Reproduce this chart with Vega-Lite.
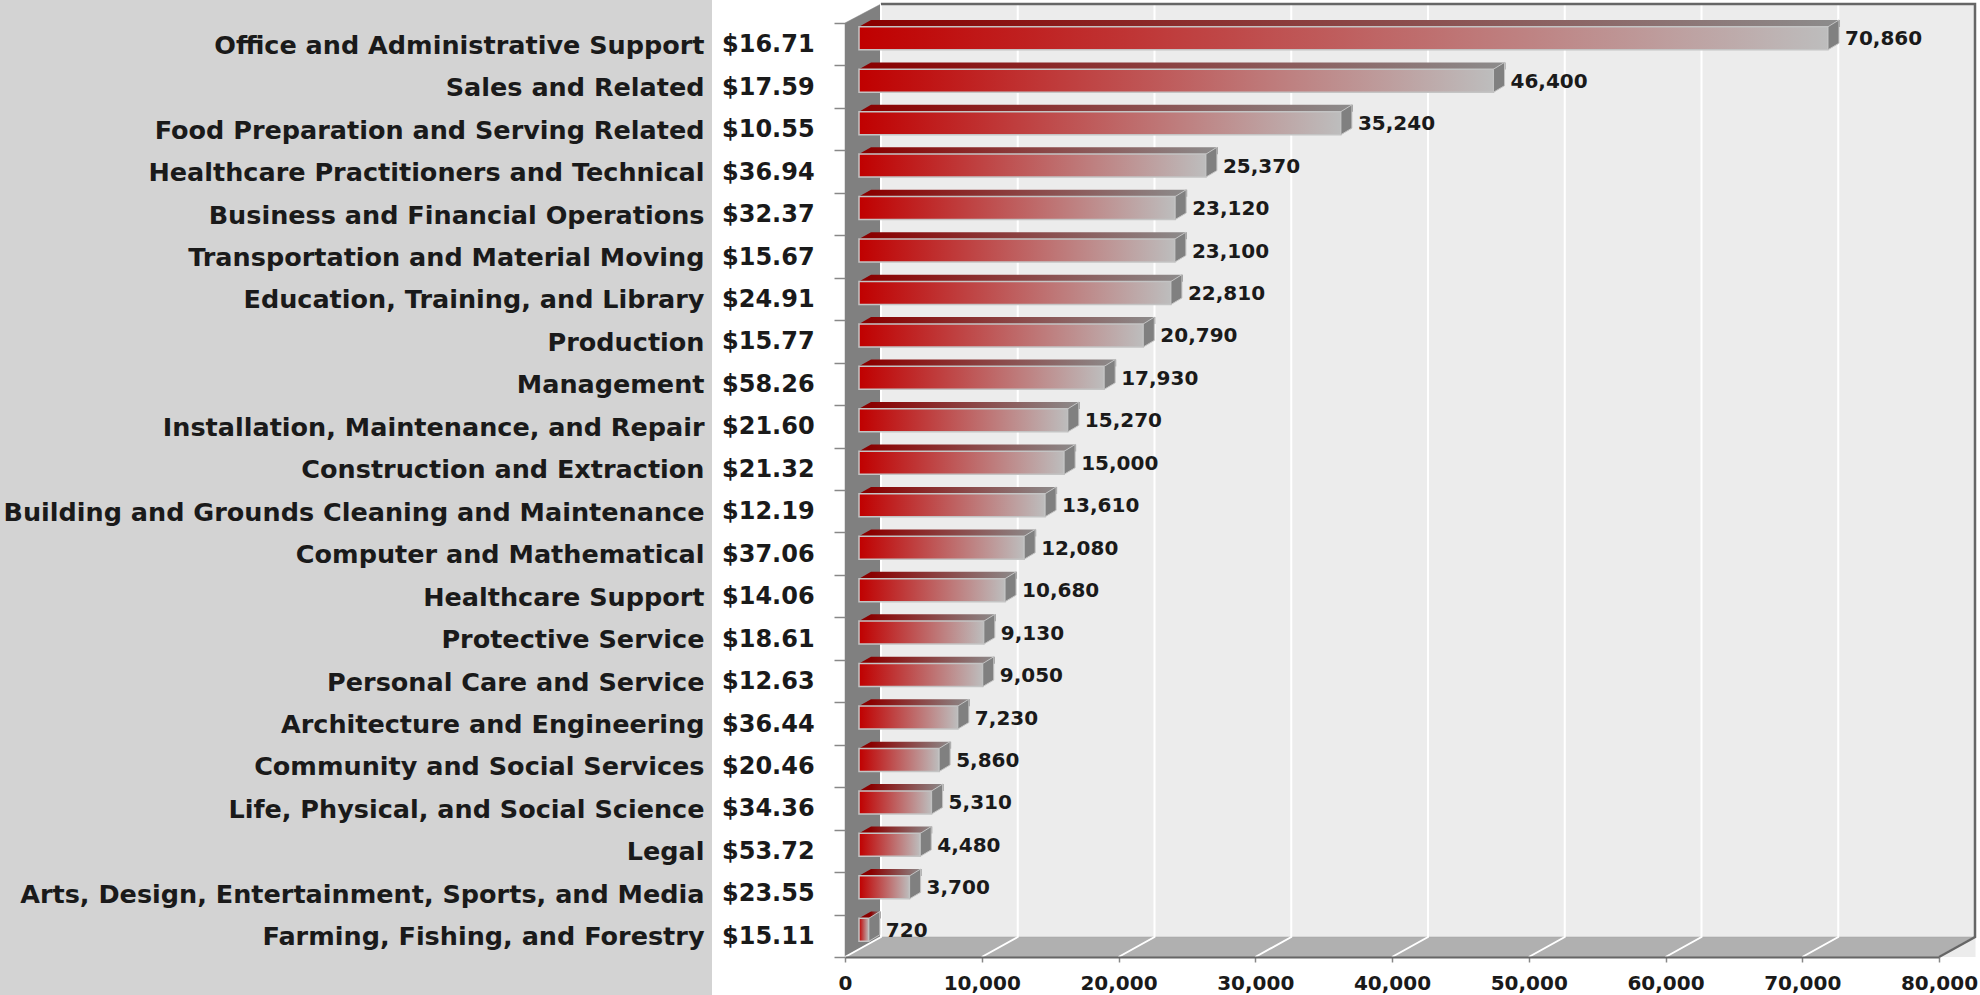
{"$schema":"https://vega.github.io/schema/vega-lite/v6.json","width":1094,"height":934,"autosize":{"type":"none"},"padding":{"left":845,"top":23,"right":41,"bottom":38},"background":"#ffffff","config":{"view":{"stroke":null},"font":"DejaVu Sans","scale":{"bandPaddingInner":0,"bandPaddingOuter":0}},"datasets":{"one":[{"k":1}],"ticks":[{"tick":0},{"tick":10000},{"tick":20000},{"tick":30000},{"tick":40000},{"tick":50000},{"tick":60000},{"tick":70000},{"tick":80000}],"rows":[{"occupation":"Office and Administrative Support","wage":16.71,"employment":70860},{"occupation":"Sales and Related","wage":17.59,"employment":46400},{"occupation":"Food Preparation and Serving Related","wage":10.55,"employment":35240},{"occupation":"Healthcare Practitioners and Technical","wage":36.94,"employment":25370},{"occupation":"Business and Financial Operations","wage":32.37,"employment":23120},{"occupation":"Transportation and Material Moving","wage":15.67,"employment":23100},{"occupation":"Education, Training, and Library","wage":24.91,"employment":22810},{"occupation":"Production","wage":15.77,"employment":20790},{"occupation":"Management","wage":58.26,"employment":17930},{"occupation":"Installation, Maintenance, and Repair","wage":21.6,"employment":15270},{"occupation":"Construction and Extraction","wage":21.32,"employment":15000},{"occupation":"Building and Grounds Cleaning and Maintenance","wage":12.19,"employment":13610},{"occupation":"Computer and Mathematical","wage":37.06,"employment":12080},{"occupation":"Healthcare Support","wage":14.06,"employment":10680},{"occupation":"Protective Service","wage":18.61,"employment":9130},{"occupation":"Personal Care and Service","wage":12.63,"employment":9050},{"occupation":"Architecture and Engineering","wage":36.44,"employment":7230},{"occupation":"Community and Social Services","wage":20.46,"employment":5860},{"occupation":"Life, Physical, and Social Science","wage":34.36,"employment":5310},{"occupation":"Legal","wage":53.72,"employment":4480},{"occupation":"Arts, Design, Entertainment, Sports, and Media","wage":23.55,"employment":3700},{"occupation":"Farming, Fishing, and Forestry","wage":15.11,"employment":720}]},"layer":[{"data":{"name":"one"},"mark":{"type":"point","shape":"M-845,-490L-133,-490L-133,505L-845,505Z","size":4,"filled":true,"fill":"#d3d3d3","opacity":1},"encoding":{"x":{"datum":0,"type":"quantitative","title":null,"scale":{"domain":[0,80000],"nice":false,"zero":false},"axis":{"zindex":1,"values":[0,10000,20000,30000,40000,50000,60000,70000,80000],"format":",d","grid":false,"domainColor":"#666666","domainWidth":2,"tickColor":"#888888","tickSize":5,"tickWidth":1.5,"labelFontSize":20,"labelFontWeight":"bold","labelColor":"#1a1a1a","labelPadding":11,"labelFont":"DejaVu Sans","labelOverlap":false,"labelFlush":false}}}},{"data":{"name":"one"},"mark":{"type":"rect","color":"#ececec","xOffset":36.5,"x2Offset":36.5,"yOffset":-19,"y2Offset":-20},"encoding":{"x":{"datum":0},"x2":{"datum":80000}}},{"data":{"name":"one"},"mark":{"type":"point","shape":"M0,-467L36,-486L36,447L0,467Z","size":4,"filled":true,"fill":"#808080","stroke":"#808080","strokeWidth":0.5,"opacity":1},"encoding":{"x":{"datum":0}}},{"data":{"name":"one"},"mark":{"type":"point","shape":"M0,467L36,447L1130,447L1094,467Z","size":4,"filled":true,"fill":"#b0b0b0","stroke":"#a0a0a0","strokeWidth":0.5,"opacity":1},"encoding":{"x":{"datum":0}}},{"data":{"name":"ticks"},"mark":{"type":"point","shape":"M36,-486L36,447L0,467","size":4,"filled":false,"stroke":"#ffffff","strokeWidth":2,"opacity":1},"encoding":{"x":{"field":"tick","type":"quantitative"}}},{"data":{"name":"one"},"mark":{"type":"point","shape":"M36,-486L1130,-486L1130,447L1094,467","size":4,"filled":false,"stroke":"#666666","strokeWidth":2.5,"opacity":1},"encoding":{"x":{"datum":0}}},{"data":{"name":"rows"},"encoding":{"y":{"field":"occupation","type":"nominal","sort":null,"title":null,"axis":{"zindex":1,"domain":false,"tickBand":"extent","tickColor":"#888888","tickSize":11,"tickWidth":1.5,"labelFontSize":25.5,"labelFontWeight":"bold","labelColor":"#1a1a1a","labelPadding":130,"labelFont":"DejaVu Sans","labelLimit":800,"labelOffset":1}}},"layer":[{"mark":{"type":"bar","size":7,"xOffset":26,"x2Offset":25,"yOffset":-20.8,"y2Offset":-20.8,"fill":{"gradient":"linear","x1":0,"x2":1,"y1":0,"y2":0,"stops":[{"offset":0,"color":"#8a0000"},{"offset":1,"color":"#8c8c8c"}]}},"encoding":{"x":{"field":"employment","type":"quantitative"}}},{"mark":{"type":"point","shape":"M0,-17.5L12,-24.3L12,-17.5Z","size":4,"filled":true,"fill":"#8a0000","opacity":1,"xOffset":14},"encoding":{"x":{"datum":0}}},{"mark":{"type":"bar","size":23,"xOffset":14,"x2Offset":14,"yOffset":-6,"y2Offset":-6,"stroke":"#c4c4c4","strokeWidth":1.5,"fill":{"gradient":"linear","x1":0,"x2":1,"y1":0,"y2":0,"stops":[{"offset":0,"color":"#c00000"},{"offset":1,"color":"#bdbdbd"}]}},"encoding":{"x":{"field":"employment","type":"quantitative"}}},{"mark":{"type":"point","shape":"M14,-17.5L25,-24.3L25,-1L14,5.5Z","size":4,"filled":true,"fill":"#808080","stroke":"#c4c4c4","strokeWidth":1,"opacity":1},"encoding":{"x":{"field":"employment","type":"quantitative"}}},{"mark":{"type":"text","align":"left","baseline":"middle","dx":31,"dy":-5,"fontSize":20,"fontWeight":"bold","color":"#1a1a1a"},"encoding":{"x":{"field":"employment","type":"quantitative"},"text":{"field":"employment","type":"quantitative","format":",d"}}},{"mark":{"type":"text","align":"left","baseline":"middle","dx":-123,"dy":1,"fontSize":24,"fontWeight":"bold","color":"#1a1a1a"},"encoding":{"x":{"datum":0},"text":{"field":"wage","type":"quantitative","format":"$.2f"}}}]}]}
